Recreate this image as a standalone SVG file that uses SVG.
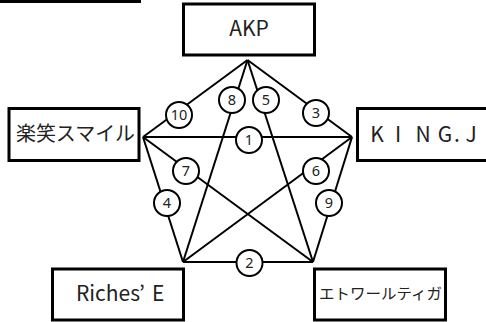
<svg xmlns="http://www.w3.org/2000/svg" width="486" height="322" viewBox="0 0 486 322">
<style>
.box{fill:#fff;stroke:#000;stroke-width:3}
.ln{stroke:#000;stroke-width:2;fill:none}
.c{fill:#fff;stroke:#000;stroke-width:2}
.t{font-family:"Noto Sans CJK JP","Noto Sans",sans-serif;fill:#222}
.n{font-family:"Noto Sans","Liberation Sans",sans-serif;font-size:14.5px;fill:#222;text-anchor:middle}
</style>
<rect width="486" height="322" fill="#fff"/>
<line x1="0" y1="1.5" x2="141" y2="1.5" stroke="#000" stroke-width="3"/>
<g id="connectors">
<line class="ln" x1="247.5" y1="60" x2="143" y2="137"/>
<line class="ln" x1="247.5" y1="60" x2="352" y2="137"/>
<line class="ln" x1="247.5" y1="60" x2="183" y2="262"/>
<line class="ln" x1="247.5" y1="60" x2="313" y2="262"/>
<line class="ln" x1="143" y1="137" x2="352" y2="137"/>
<line class="ln" x1="143" y1="137" x2="183" y2="262"/>
<line class="ln" x1="143" y1="137" x2="313" y2="262"/>
<line class="ln" x1="352" y1="137" x2="313" y2="262"/>
<line class="ln" x1="352" y1="137" x2="183" y2="262"/>
<line class="ln" x1="183" y1="262" x2="313" y2="262"/>
</g>
<g id="labels">
<g id="l10"><circle class="c" cx="179" cy="115" r="13"/><text class="n" x="179" y="120">10</text></g>
<g id="l8"><circle class="c" cx="232" cy="100" r="13"/><text class="n" x="232" y="105">8</text></g>
<g id="l5"><circle class="c" cx="266" cy="100" r="13"/><text class="n" x="266" y="105">5</text></g>
<g id="l3"><circle class="c" cx="316" cy="113" r="13"/><text class="n" x="316" y="118">3</text></g>
<g id="l1"><circle class="c" cx="249" cy="140" r="13"/><text class="n" x="249" y="145">1</text></g>
<g id="l7"><circle class="c" cx="186" cy="171" r="13"/><text class="n" x="186" y="176">7</text></g>
<g id="l6"><circle class="c" cx="316" cy="171" r="13"/><text class="n" x="316" y="176">6</text></g>
<g id="l4"><circle class="c" cx="167" cy="203" r="13"/><text class="n" x="167" y="208">4</text></g>
<g id="l9"><circle class="c" cx="329" cy="203" r="13"/><text class="n" x="329" y="208">9</text></g>
<g id="l2"><circle class="c" cx="249.5" cy="263" r="13"/><text class="n" x="249.5" y="268">2</text></g>
</g>
<g id="akp"><rect class="box" x="183.5" y="4" width="131" height="51"/><text class="t" x="249" y="36" font-size="21" text-anchor="middle">AKP</text></g>
<g id="rakusho"><rect class="box" x="9" y="108.5" width="130" height="52"/><text class="t" x="16" y="141" font-size="20" textLength="119" lengthAdjust="spacingAndGlyphs">楽笑スマイル</text></g>
<g id="kingj"><rect class="box" x="357.5" y="108.5" width="135" height="52"/><text class="t" x="377 398 423 445 457 471" y="142" font-size="21" text-anchor="middle">KING.J</text></g>
<g id="riches"><rect class="box" x="52.5" y="269" width="131" height="51"/><text class="t" y="301" font-size="21"><tspan x="76">Riches</tspan><tspan x="139">’</tspan><tspan x="152">E</tspan></text></g>
<g id="etoile"><rect class="box" x="314.5" y="269" width="131" height="51"/><text class="t" x="319" y="299" font-size="15" textLength="123" lengthAdjust="spacingAndGlyphs">エトワールティガ</text></g>
</svg>
